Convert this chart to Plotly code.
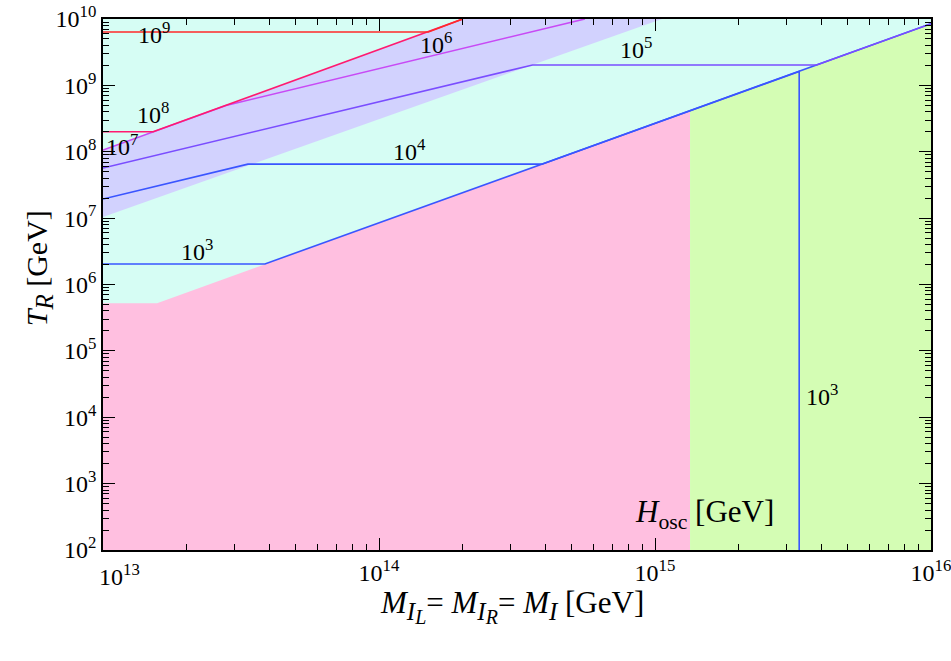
import plotly.graph_objects as go

# ---------------- data ----------------
x_range = [1e13, 1e16]
y_range = [1e2, 1e10]
decades_x = [13, 14, 15, 16]
decades_y = [2, 3, 4, 5, 6, 7, 8, 9, 10]

# shaded regions (polygons in data coordinates)
pink_x = [1e13, 1e13, 1.57e13, 1.34e15, 1.34e15]
pink_y = [1e2, 5.2e5, 5.2e5, 4.16e8, 1e2]
green_x = [1.34e15, 1.34e15, 1e16, 1e16]
green_y = [1e2, 4.16e8, 8.5e9, 1e2]
lav_x = [1e13, 1.06e15, 2.01e14, 1e13]
lav_y = [1.04e7, 1e10, 1e10, 1.06e8]

# H_osc contours
h3_x = [1e13, 3.86e13, 3.33e15, 3.33e15]
h3_y = [2.04e6, 2.04e6, 1.62e9, 1e2]
h4_x = [1e13, 3.35e13, 3.89e14, 1e16]
h4_y = [1.94e7, 6.5e7, 6.5e7, 8.5e9]
h5_x = [1e13, 3.6e14, 3.85e15, 1e16]
h5_y = [5.7e7, 2.03e9, 2.03e9, 8.5e9]
h6_x = [1e13, 2.79e13, 5.57e14]
h6_y = [1.06e8, 4.98e8, 1e10]
h8_x = [1e13, 1.52e13, 2.01e14]
h8_y = [2.0e8, 2.0e8, 1e10]
h9_x = [1e13, 1.51e14, 2.01e14]
h9_y = [6.37e9, 6.37e9, 1e10]

# contour labels: (text, log10 x, log10 y)
label_text = ["10<sup>9</sup>", "10<sup>8</sup>", "10<sup>7</sup>", "10<sup>6</sup>",
              "10<sup>5</sup>", "10<sup>4</sup>", "10<sup>3</sup>", "10<sup>3</sup>"]
label_lx = [13.185, 13.181, 13.069, 14.207, 14.931, 14.109, 13.341, 15.605]
label_ly = [9.789, 8.584, 8.102, 9.638, 9.563, 8.026, 6.520, 4.335]

# ---------------- styling ----------------
FONT = "Liberation Serif, Times New Roman, Times, serif"
C_CYAN = "#d6fdf4"
C_LAV = "#d2d2fe"
C_PINK = "#ffbfe0"
C_GREEN = "#d4fdb4"
C_BLUE = "#3a55ff"
C_PURPLE = "#7a4dff"
C_MAGENTA = "#c84af5"
C_PINKRED = "#ff1a70"
C_RED = "#ff2a2a"

fig = go.Figure()

for xs, ys, col in [(lav_x, lav_y, C_LAV), (pink_x, pink_y, C_PINK), (green_x, green_y, C_GREEN)]:
    fig.add_trace(go.Scatter(x=xs, y=ys, mode="lines", fill="toself", fillcolor=col,
                             line=dict(width=0), hoverinfo="skip", showlegend=False))

for xs, ys, col in [(h3_x, h3_y, C_BLUE), (h4_x, h4_y, C_BLUE), (h5_x, h5_y, C_PURPLE),
                    (h6_x, h6_y, C_MAGENTA), (h8_x, h8_y, C_PINKRED), (h9_x, h9_y, C_RED)]:
    fig.add_trace(go.Scatter(x=xs, y=ys, mode="lines", line=dict(color=col, width=1.6),
                             hoverinfo="skip", showlegend=False))

# invisible trace to carry the mirrored (top/right) axes
fig.add_trace(go.Scatter(x=[x_range[0]], y=[y_range[0]], xaxis="x2", yaxis="y2", mode="markers",
                         marker=dict(opacity=0), hoverinfo="skip", showlegend=False))

for t, lx, ly in zip(label_text, label_lx, label_ly):
    fig.add_annotation(x=lx, y=ly, xref="x", yref="y", text=t, showarrow=False,
                       font=dict(family=FONT, size=24, color="black"))

fig.add_annotation(x=15.181, y=2.542, xref="x", yref="y",
                   text="<i>H</i><sub>osc</sub> [GeV]", showarrow=False,
                   font=dict(family=FONT, size=31, color="black"))

# axis titles
SUB1 = "<span style='font-size:25px'>"
SUB2 = "<span style='font-size:20px'>"
xtitle = ("<i>M</i><sub>" + SUB1 + "<i>I</i></span><sub>" + SUB2 + "<i>L</i></span></sub></sub>= "
          "<i>M</i><sub>" + SUB1 + "<i>I</i></span><sub>" + SUB2 + "<i>R</i></span></sub></sub>= "
          "<i>M</i><sub>" + SUB1 + "<i>I</i></span></sub> [GeV]")
fig.add_annotation(x=0.494, y=-0.151, xref="paper", yref="paper", text=xtitle,
                   showarrow=False, font=dict(family=FONT, size=31, color="black"))
fig.add_annotation(x=-0.103, y=0.53, xref="paper", yref="paper", textangle=-90,
                   text="<i>T</i><sub>" + SUB1 + "<i>R</i></span></sub> [GeV]",
                   showarrow=False, font=dict(family=FONT, size=30, color="black"))

# 10^13 label shifted like the reference
fig.add_annotation(x=0, y=0, xref="paper", yref="paper", xanchor="left", yanchor="top",
                   xshift=-6, yshift=-8, text="10<sup>13</sup>", showarrow=False,
                   font=dict(family=FONT, size=24, color="black"))

x_major = [10 ** d for d in decades_x]
x_text = ["" if d == 13 else "10<sup>%d</sup>" % d for d in decades_x]
x_minor = [m * 10 ** d for d in decades_x[:-1] for m in range(2, 10)]
y_major = [10 ** d for d in decades_y]
y_text = ["10<sup>%d</sup>" % d for d in decades_y]
y_minor = [m * 10 ** d for d in decades_y[:-1] for m in range(2, 10)]

axis_common = dict(type="log", showgrid=False, zeroline=False, showline=True,
                   linecolor="black", linewidth=1.6, automargin=False,
                   ticks="inside", ticklen=12, tickwidth=1.4, tickcolor="black",
                   ticklabeloverflow="allow",
                   tickfont=dict(family=FONT, size=24, color="black"))
minor_x = dict(tickmode="array", tickvals=x_minor, ticks="inside", ticklen=6,
               tickwidth=1.2, tickcolor="black", showgrid=False)
minor_y = dict(tickmode="array", tickvals=y_minor, ticks="inside", ticklen=6,
               tickwidth=1.2, tickcolor="black", showgrid=False)

fig.update_layout(
    xaxis=dict(range=[13, 16], tickmode="array", tickvals=x_major, ticktext=x_text,
               minor=minor_x, **axis_common),
    yaxis=dict(range=[2, 10], tickmode="array", tickvals=y_major, ticktext=y_text,
               minor=minor_y, **axis_common),
    xaxis2=dict(range=[13, 16], tickmode="array", tickvals=x_major, showticklabels=False,
                minor=minor_x, overlaying="x", side="top", anchor="y2", **axis_common),
    yaxis2=dict(range=[2, 10], tickmode="array", tickvals=y_major, showticklabels=False,
                minor=minor_y, overlaying="y", side="right", anchor="x2", **axis_common),
)

fig.update_layout(width=951, height=661, margin=dict(l=103, r=20, t=19, b=111, autoexpand=False),
                  paper_bgcolor="white", plot_bgcolor=C_CYAN, showlegend=False,
                  font=dict(family=FONT, color="black"))

# remove the default page margin so the figure fills the window exactly
fig.write_html("out.html", config={"displayModeBar": False},
               post_script="document.body.style.margin='0';document.body.style.overflow='hidden';")
